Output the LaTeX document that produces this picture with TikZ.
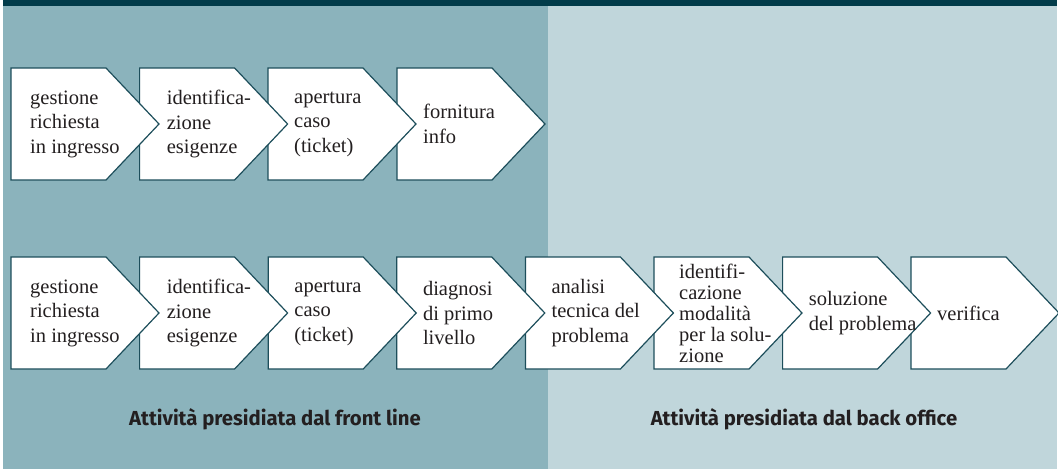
\documentclass[tikz,border=0pt]{standalone}
\usepackage{fontspec}
\setmainfont{Liberation Serif}
\newfontfamily\labelfont{Fira Sans}
\definecolor{topbar}{HTML}{023C4A}
\definecolor{frontbg}{HTML}{8BB3BC}
\definecolor{backbg}{HTML}{C0D6DB}
\definecolor{stepedge}{HTML}{1D4E5B}
\definecolor{inktext}{HTML}{231F20}
\tikzset{
  stepline/.style={draw=stepedge, fill=white, line width=1.2pt, line join=miter},
  steptext/.style={anchor=west, align=left, inner sep=0pt, text=inktext,
    font=\fontsize{20.5}{24.5}\selectfont},
  tightlines/.style={font=\fontsize{20.5}{21}\selectfont},
  grouplabel/.style={inner sep=0pt, text=inktext,
    font=\labelfont\bfseries\fontsize{20.3}{22}\selectfont},
}
% [#1] extra text style, #2 left x, #3 top y, #4 node name, #5 text inset, #6 text
\newcommand{\procstep}[6][]{%
  \draw[stepline] (#2,#3) -- ++(95,0) -- ++(53,56) -- ++(-53,56) -- ++(-95,0) -- cycle;
  \node[steptext,#1] (#4) at ({#2+#5},{#3+56}) {#6};}
\begin{document}
\begin{tikzpicture}[x=1pt,y=-1pt]
  \useasboundingbox (0,0) rectangle (1058,469);
  % page margin and background panels
  \fill[white] (0,0) rectangle (1058,469);
  \fill[frontbg] (3,0) rectangle (548,469);
  \fill[backbg] (548,0) rectangle (1056.5,469);
  \fill[topbar] (3,0) rectangle (1056.5,6);

  % first row: simple request
  \procstep{397}{68}{a4}{26}{fornitura\\info}
  \procstep{268}{68}{a3}{26}{apertura\\caso\\(ticket)}
  \procstep{139.6}{68}{a2}{27}{identifica-\\zione\\esigenze}
  \procstep{11}{68}{a1}{19}{gestione\\richiesta\\in ingresso}

  % second row: technical problem
  \procstep{911}{257}{b8}{26}{verifica}
  \procstep{782.6}{257}{b7}{26}{soluzione\\del problema}
  \procstep[tightlines]{654}{257}{b6}{25}{identifi-\\cazione\\modalità\\per la solu-\\zione}
  \procstep{525.4}{257}{b5}{26}{analisi\\tecnica del\\problema}
  \procstep{396.8}{257}{b4}{26}{diagnosi\\di primo\\livello}
  \procstep{268.2}{257}{b3}{26}{apertura\\caso\\(ticket)}
  \procstep{139.6}{257}{b2}{27}{identifica-\\zione\\esigenze}
  \procstep{11}{257}{b1}{19}{gestione\\richiesta\\in ingresso}

  % group captions
  \node[grouplabel] (frontlbl) at (275,419) {Attività presidiata dal front line};
  \node[grouplabel] (backlbl) at (804,419) {Attività presidiata dal back office};
\end{tikzpicture}
\end{document}
